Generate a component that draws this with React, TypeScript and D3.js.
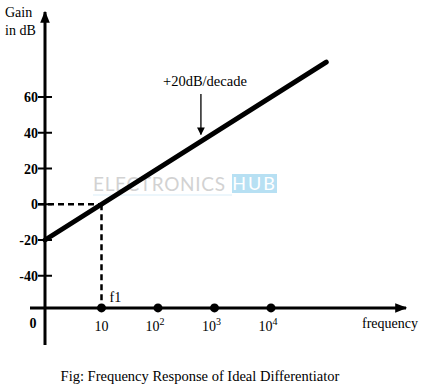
import React from 'react';
import * as d3 from 'd3';

// gain ticks (dB) and frequency ticks
const gainTicks = [60, 40, 20, 0, -20, -40];
const freqTicks = [10, 100, 1000, 10000];
const freqExp = ['', '2', '3', '4'];

// response line (f, dB)
const responseF = [1, 95000];
const responseDb = [-20, 79.5];

// corner frequency f1 where gain crosses 0 dB
const cornerF = 10;
const cornerDb = 0;

const axisLevelDb = -58;
const annotationF = 575;

const W = 424;
const H = 388;
const serif = '"Liberation Serif", "Times New Roman", serif';

export default function App() {
  const x = d3.scaleLog().domain([1, 10000]).range([45, 271]);
  const y = d3.scaleLinear().domain([-20, 60]).range([240, 97]);

  const x0 = x(1);
  const yAxisY = y(axisLevelDb);

  const line = d3
    .line<number>()
    .x((_, i) => x(responseF[i]))
    .y(d => y(d));

  const annX = x(annotationF);
  const annGain =
    responseDb[0] + (Math.log10(annotationF) / Math.log10(responseF[1])) * (responseDb[1] - responseDb[0]);

  return (
    <svg
      width={W}
      height={H}
      style={{ position: 'absolute', left: 0, top: 0, background: '#fff', fontFamily: serif }}
    >
      <defs>
        <marker id="ah" viewBox="0 0 10 10" refX="9" refY="5" markerWidth="6" markerHeight="6" orient="auto">
          <path d="M0,0 L10,5 L0,10 z" fill="#000" />
        </marker>
        <marker id="axh" viewBox="0 0 10 10" refX="9" refY="5" markerWidth="4" markerHeight="4" orient="auto">
          <path d="M0,1 L10,5 L0,9 z" fill="#000" />
        </marker>
      </defs>

      {/* watermark */}
      <g opacity={0.75}>
        <text
          x={93}
          y={191}
          fontFamily="Lato, sans-serif"
          fontSize={19}
          fill="#c4c4c4"
          textLength={132}
          lengthAdjust="spacing"
        >
          ELECTRONICS
        </text>
        <rect x={232} y={174} width={45} height={19} fill="#9fd6f0" />
        <text x={254.5} y={190} fontFamily="Lato, sans-serif" fontSize={18} fill="#fff" textAnchor="middle" letterSpacing={2}>
          HUB
        </text>
        <line x1={93} x2={232} y1={195} y2={195} stroke="#cde9f6" strokeWidth={1} />
      </g>

      {/* axis titles */}
      <text x={5} y={17} fontSize={14}>Gain</text>
      <text x={5} y={35} fontSize={14}>in dB</text>

      {/* y axis */}
      <line x1={x0} x2={x0} y1={345} y2={12} stroke="#000" strokeWidth={3} markerEnd="url(#axh)" />
      {gainTicks.map(t => (
        <g key={t}>
          <line x1={x0 - 7} x2={x0 + 7} y1={y(t)} y2={y(t)} stroke="#000" strokeWidth={2} />
          <text x={x0 - 7} y={y(t) + 5} fontSize={14} fontWeight="bold" textAnchor="end">
            {t}
          </text>
        </g>
      ))}

      {/* x axis */}
      <line x1={30} x2={406} y1={yAxisY} y2={yAxisY} stroke="#000" strokeWidth={3} markerEnd="url(#axh)" />
      <text x={x0 - 12} y={328} fontSize={14} fontWeight="bold" textAnchor="middle">0</text>
      {freqTicks.map((f, i) => (
        <g key={f}>
          <circle cx={x(f)} cy={yAxisY} r={4.5} fill="#000" />
          <text x={x(f) - (freqExp[i] ? 3 : 0)} y={331} fontSize={14} textAnchor="middle">
            10
            {freqExp[i] && (
              <tspan dy={-6} fontSize={10}>
                {freqExp[i]}
              </tspan>
            )}
          </text>
        </g>
      ))}
      <text x={362} y={328} fontSize={14}>frequency</text>

      {/* dashed guides to f1 */}
      <line x1={x0 - 7} x2={x(cornerF)} y1={y(cornerDb)} y2={y(cornerDb)} stroke="#000" strokeWidth={2.5} strokeDasharray="6,4" />
      <line x1={x(cornerF)} x2={x(cornerF)} y1={y(cornerDb)} y2={yAxisY} stroke="#000" strokeWidth={2.5} strokeDasharray="6,4" />
      <text x={x(cornerF) + 8} y={302} fontSize={14}>f1</text>

      {/* response */}
      <path d={line(responseDb) || ''} fill="none" stroke="#000" strokeWidth={5} strokeLinecap="round" />

      {/* annotation */}
      <text x={annX + 4} y={86} fontSize={14.5} textAnchor="middle">+20dB/decade</text>
      <line x1={annX} x2={annX} y1={94} y2={y(annGain) - 7} stroke="#000" strokeWidth={1.3} markerEnd="url(#ah)" />

      {/* caption */}
      <text x={200} y={381} fontSize={14.5} textAnchor="middle">
        Fig: Frequency Response of Ideal Differentiator
      </text>
    </svg>
  );
}
